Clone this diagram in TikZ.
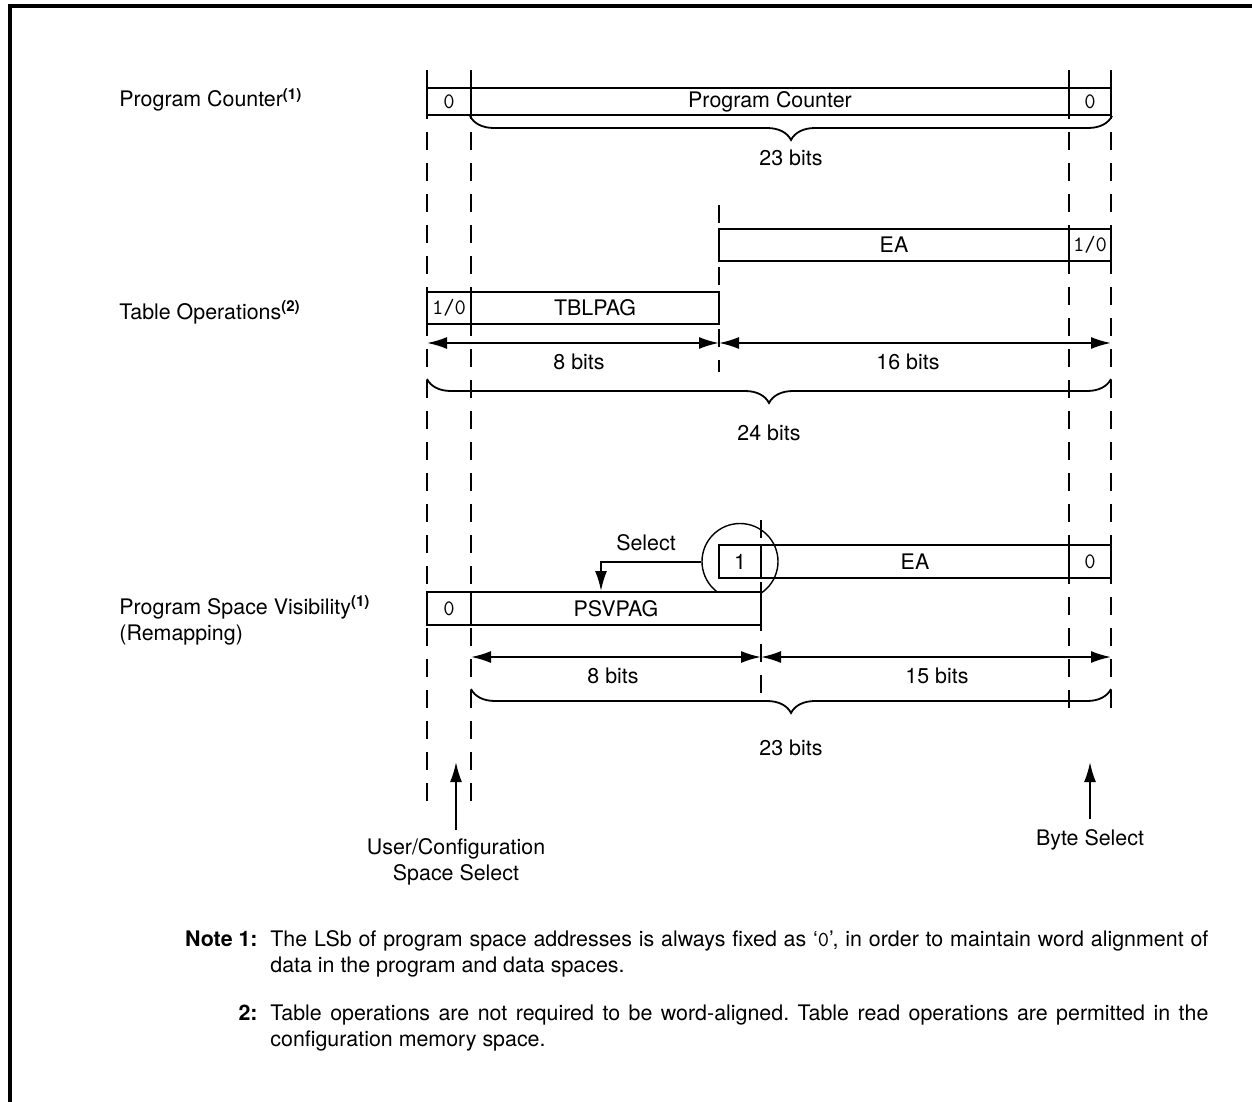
\documentclass[tikz,border=0pt]{standalone}
\usepackage{fontspec}
\setmainfont{TeX Gyre Heros}
\usetikzlibrary{arrows.meta,decorations.pathreplacing,calc}
\begin{document}
\frenchspacing
\begin{tikzpicture}[x=0.5pt,y=-0.5pt,
  font=\fontsize{10.7}{13}\selectfont,
  fld/.style={draw, line width=1pt, fill=white, inner sep=0pt},
  mono/.style={font=\fontsize{11}{13}\selectfont\ttfamily},
  guide/.style={line width=0.9pt, dash pattern=on 9pt off 6.5pt},
  dim/.style={line width=1pt, {Latex[length=10pt,width=6pt]}-{Latex[length=10pt,width=6pt]}},
  arr/.style={line width=1pt, -{Latex[length=10pt,width=6pt]}},
  brc/.style={decorate, decoration={brace, mirror, amplitude=12pt}, line width=0.9pt},
  lbl/.style={inner sep=0pt}
]
\useasboundingbox (0,0) rectangle (1252,1102);
\draw[line width=1.6pt] (10,1102) -- (10,6) -- (1252,6);

% guide lines
\draw[guide] (427,70) -- (427,805);
\draw[guide] (471,70) -- (471,805);
\draw[guide] (1069,70) -- (1069,720);
\draw[guide] (1111,70) -- (1111,720);
\draw[guide] (719,205) -- (719,372);
\draw[guide] (761,520) -- (761,700);

% Program counter row
\node[fld, mono, minimum width=22pt, minimum height=13.5pt] (pc0) at (449,101.5) {0};
\node[fld, minimum width=299pt, minimum height=13.5pt] (pcm) at (770,101.5) {Program Counter};
\node[fld, mono, minimum width=21pt, minimum height=13.5pt] (pc1) at (1090,101.5) {0};
\draw[brc] (pcm.south west) -- (pc1.south east);
\node[lbl] (b23a) at (791,158) {23 bits};
\node[lbl, anchor=base west] (lpc) at (119,107) {Program Counter\textsuperscript{\bfseries(1)}};

% Table operations
\node[fld, minimum width=175pt, minimum height=16pt] (tea) at (894,245) {EA};
\node[fld, mono, minimum width=21pt, minimum height=16pt] (tea0) at (1090,245) {1/0};
\node[fld, mono, minimum width=22pt, minimum height=16pt] (tb0) at (449,308) {1/0};
\node[fld, minimum width=124pt, minimum height=16pt] (tb1) at (595,308) {TBLPAG};
\node[lbl, anchor=base west] (lto) at (119,319) {Table Operations\textsuperscript{\bfseries(2)}};
\coordinate (t8a) at (427,343);
\coordinate (t8b) at (719,343);
\coordinate (t16b) at (1111,343);
\draw[dim] (t8a) -- (t8b);
\draw[dim] (t8b) -- (t16b);
\node[lbl] (t8) at (579,362) {8 bits};
\node[lbl] (t16) at (908,362) {16 bits};
\coordinate (br2a) at (427,379);
\coordinate (br2b) at (1111,379);
\draw[brc] (br2a) -- (br2b);
\node[lbl] (b24) at (769,433) {24 bits};

% PSV
\node[fld, minimum width=21pt, minimum height=16.5pt] (pe1) at (740,561.5) {1};
\node[fld, minimum width=154pt, minimum height=16.5pt] (pe2) at (915,561.5) {EA};
\node[fld, mono, minimum width=21pt, minimum height=16.5pt] (pe3) at (1090,561.5) {0};
\node[draw, circle, line width=0.7pt, minimum size=38pt, inner sep=0pt] (sel) at (740,561.5) {};
\node[fld, mono, minimum width=22pt, minimum height=16.5pt] (ps0) at (449,608.5) {0};
\node[fld, minimum width=145pt, minimum height=16.5pt] (ps1) at (616,608.5) {PSVPAG};
\coordinate (selturn) at (601,561.5);
\draw[arr] (sel.west) -- (selturn) -- (selturn |- ps1.north);
\node[lbl] (selt) at (646,543) {Select};
\node[lbl, anchor=base west] (lpsv) at (119,614) {Program Space Visibility\textsuperscript{\bfseries(1)}};
\node[lbl, anchor=base west] (lrem) at (119,640) {(Remapping)};
\coordinate (p8a) at (471,657);
\coordinate (p8b) at (761,657);
\coordinate (p15b) at (1111,657);
\draw[dim] (p8a) -- (p8b);
\draw[dim] (p8b) -- (p15b);
\node[lbl] (p8) at (613,676) {8 bits};
\node[lbl] (p15) at (937,676) {15 bits};
\coordinate (br3a) at (471,689);
\coordinate (br3b) at (1111,689);
\draw[brc] (br3a) -- (br3b);
\node[lbl] (b23b) at (791,748) {23 bits};

% bottom selects
\node[lbl, align=center] (ucs) at (456,862) {User/Configuration\\Space Select};
\coordinate (ucstip) at (456,762);
\draw[arr] ($(ucs.north)+(0,-8)$) -- (ucstip);
\node[lbl] (bs) at (1090,840) {Byte Select};
\coordinate (bstip) at (1090,762);
\draw[arr] ($(bs.north)+(0,-10)$) -- (bstip);

% notes
\node[lbl, anchor=base east, font=\fontsize{10.7}{13}\selectfont\bfseries] (n1) at (258,946) {Note 1:};
\node[lbl, anchor=base west] (n1t) at (270,946) {\parbox[t]{469pt}{The LSb of program space addresses is always fixed as `{\ttfamily 0}', in order to maintain word alignment of\linebreak data in the program and data spaces.}};
\node[lbl, anchor=base east, font=\fontsize{10.7}{13}\selectfont\bfseries] (n2) at (258,1020) {2:};
\node[lbl, anchor=base west] (n2t) at (270,1020) {\parbox[t]{469pt}{Table operations are not required to be word-aligned. Table read operations are permitted in the\linebreak configuration memory space.}};
\end{tikzpicture}
\end{document}
